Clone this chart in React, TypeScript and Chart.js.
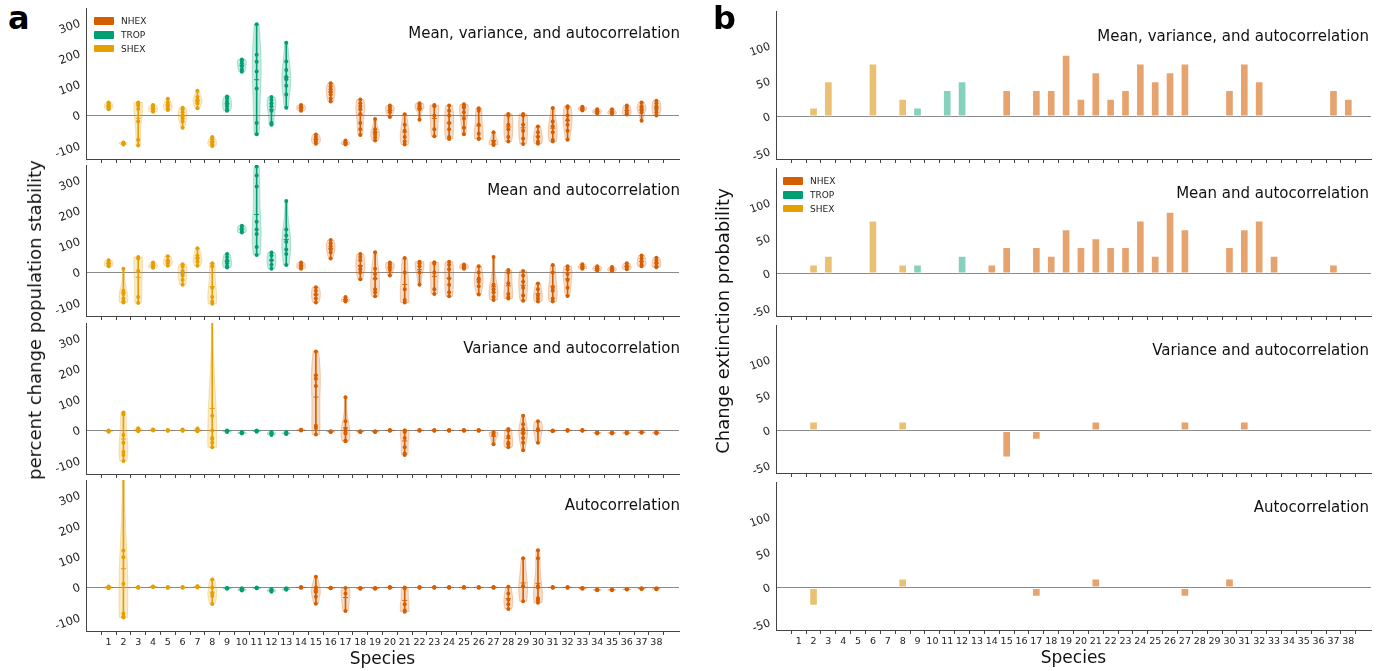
import React, { useEffect, useRef } from 'react';
import { Chart, registerables } from 'chart.js';

Chart.register(...registerables);

const FONT = "'DejaVu Sans', 'Noto Sans', sans-serif";

// ---------- data ----------
const species = [1, 2, 3, 4, 5, 6, 7, 8, 9, 10, 11, 12, 13, 14, 15, 16, 17, 18, 19, 20, 21, 22, 23, 24, 25, 26, 27, 28, 29, 30, 31, 32, 33, 34, 35, 36, 37, 38];
const groups = [
  'SHEX', 'SHEX', 'SHEX', 'SHEX', 'SHEX', 'SHEX', 'SHEX', 'SHEX',
  'TROP', 'TROP', 'TROP', 'TROP', 'TROP',
  'NHEX', 'NHEX', 'NHEX', 'NHEX', 'NHEX', 'NHEX', 'NHEX', 'NHEX', 'NHEX', 'NHEX', 'NHEX', 'NHEX', 'NHEX',
  'NHEX', 'NHEX', 'NHEX', 'NHEX', 'NHEX', 'NHEX', 'NHEX', 'NHEX', 'NHEX', 'NHEX', 'NHEX', 'NHEX',
];
const legendGroups = ['NHEX', 'TROP', 'SHEX'];
const groupColors: Record<string, string> = { NHEX: '#D55E00', TROP: '#009E73', SHEX: '#E69F00' };
const barColors: Record<string, string> = { NHEX: 'rgba(213,94,0,0.57)', TROP: 'rgba(0,158,115,0.48)', SHEX: 'rgba(222,160,40,0.65)' };
const subplotTitles = ['Mean, variance, and autocorrelation', 'Mean and autocorrelation', 'Variance and autocorrelation', 'Autocorrelation'];
const stabilityTicks = [-100, 0, 100, 200, 300];
const extinctionTicks = [-50, 0, 50, 100];

// panel a: percent change population stability (one list of scenario values per species)
const aMeanVarAuto: number[][] = [
  [42, 38, 35, 30, 28, 24, 20], [-88, -90, -92, -95], [42, 38, 32, 21, -20, -79, -98], [34, 28, 22, 15, 12],
  [54, 42, 35, 28, 22, 18], [25, 20, 10, 0, -10, -20, -40], [80, 60, 50, 45, 40, 23], [-70, -78, -85, -90, -95, -100],
  [62, 55, 45, 38, 30, 20, 15], [182, 178, 170, 160, 150, 142], [297, 198, 175, 143, 88, -25, -61], [60, 50, 40, 30, 15, -25, -30],
  [237, 176, 148, 125, 118, 97, 68, 25], [34, 28, 22, 15], [-62, -70, -78, -85, -92], [105, 95, 85, 78, 68, 55, 45],
  [-82, -88, -92, -95], [52, 40, 30, 20, 5, -25, -45, -64], [-12, -45, -55, -62, -72, -82], [32, 25, 18, 10, -5],
  [4, -30, -50, -70, -85, -95], [40, 35, 30, 25, 20, -14], [34, 30, 0, -45, -68], [32, 15, 0, -25, -45, -70, -77],
  [36, 30, 25, 10, -10, -40, -61], [23, 15, -30, -60, -75, -77], [-55, -85, -92, -96], [5, 0, -30, -45, -70, -85],
  [5, 0, -30, -50, -75, -93], [-36, -55, -70, -85, -92], [24, -20, -35, -55, -80, -85], [30, 25, 0, -15, -30, -50, -79],
  [28, 24, 20, 16], [20, 15, 10, 6], [20, 12, 8, 5], [32, 25, 15, 8, 3], [42, 30, 25, 18, 10, -17], [48, 40, 30, 20, 10, 0],
];
const aMeanAuto: number[][] = [
  [40, 32, 25, 20], [12, -60, -70, -85, -95, -98], [50, 45, 5, -80, -100], [32, 25, 18, 15],
  [53, 40, 30, 22], [27, 20, 5, -10, -25, -40], [79, 55, 45, 35, 22], [30, 20, -50, -80, -95, -102],
  [60, 50, 40, 30, 20, 16], [152, 145, 135, 130], [345, 316, 280, 165, 140, 125, 83, 57], [65, 55, 40, 25, 12],
  [233, 140, 120, 100, 75, 60, 24], [32, 25, 18, 12], [-48, -60, -72, -85, -98], [106, 95, 85, 75, 65, 45],
  [-80, -88, -92, -95], [60, 50, 40, 20, 10, 0, -22], [66, 12, -5, -20, -55, -65, -78], [32, 25, 18, 8, -10],
  [47, 0, -55, -90, -98], [35, 30, 20, 0, -40], [33, 28, 0, -55, -70], [35, 25, 10, -20, -40, -65, -78],
  [26, 22, 15, 12], [20, 0, -20, -30, -45, -72], [50, -40, -55, -65, -80, -90], [8, 0, -35, -70, -80, -85],
  [5, -10, -30, -50, -75, -92], [-36, -55, -75, -85, -95], [24, 0, -50, -60, -85, -95], [20, 10, -5, -25, -50, -77],
  [27, 20, 15, 12], [20, 15, 10, 6], [18, 12, 8, 5], [30, 22, 15, 10], [55, 45, 35, 25, 20], [48, 40, 30, 20, 17],
];
const aVarAuto: number[][] = [
  [0, -2, -4, -3], [58, 52, -15, -40, -70, -80, -100], [7, 3, 0, -3], [3, 1, 0],
  [1, 0, -1], [3, 0, -1], [6, 2, 0, -3], [600, 48, 0, -25, -28, -40, -55],
  [0, -3, -5], [-5, -8, -10], [0, -2, -4], [-5, -10, -15],
  [-5, -10, -12], [2, 0, 1], [257, 180, 168, 145, 15, 8, -13], [-3, -5, -4],
  [108, 30, 5, -5, -10, -33, -35], [-3, -5, -4], [-4, -3, -5], [0, 1, -1],
  [0, 0, -5, -25, -55, -75, -80], [0, 1, -1], [0, 1, -1], [-1, 0, 1],
  [0, 1, -1], [0, 1, -1], [-5, -10, -15, -45], [5, 0, -20, -40, -45, -55],
  [48, 20, 5, 0, -10, -25, -40, -65], [30, 5, 0, -40], [0, -3, -1], [0, 1, -1],
  [0, 1, -1], [-8, -10, -7], [-8, -10, -7], [-8, -10, -5], [-5, -8, -6], [-5, -8, -10],
];
const aAuto: number[][] = [
  [0, 3, -3], [475, 120, 98, 12, -85, -95, -98], [0, 1, -1], [2, 1, 3],
  [0, 1, -1], [0, 1, -1], [3, 0, 4], [26, 0, -20, -28, -54],
  [-3, -2, -4], [-3, -8, -10], [-2, 0, -3], [-5, -10, -14],
  [-3, -8, -6], [0, 1, -1], [35, 0, -5, -15, -30, -53], [-2, -1, -3],
  [-2, -20, -77], [-3, -2, -4], [-3, -2, -4], [0, 1, -1],
  [0, -3, -55, -75, -79], [0, 1, -1], [0, 1, -1], [0, 1, -1],
  [0, 1, -1], [0, 1, -1], [0, 1, -1], [2, -20, -40, -55, -70],
  [95, 5, 3, -45], [121, 95, 5, 0, -35, -42, -50], [0, 1, -1], [0, 1, -1],
  [-3, -2, -4], [-8, -7, -9], [-8, -7, -9], [-6, -5, -7], [-3, -5, -4], [-3, -6, -5],
];

// panel b: change in extinction probability per species
const bMeanVarAuto = [0, 12.5, 50, 0, 0, 75, 0, 25, 12.5, 0, 37.5, 50, 0, 0, 37.5, 0, 37.5, 37.5, 87.5, 25, 62.5, 25, 37.5, 75, 50, 62.5, 75, 0, 0, 37.5, 75, 50, 0, 0, 0, 0, 37.5, 25];
const bMeanAuto = [0, 12.5, 25, 0, 0, 75, 0, 12.5, 12.5, 0, 0, 25, 0, 12.5, 37.5, 0, 37.5, 25, 62.5, 37.5, 50, 37.5, 37.5, 75, 25, 87.5, 62.5, 0, 0, 37.5, 62.5, 75, 25, 0, 0, 0, 12.5, 0];
const bVarAuto = [0, 12.5, 0, 0, 0, 0, 0, 12.5, 0, 0, 0, 0, 0, 0, -37.5, 0, -12.5, 0, 0, 0, 12.5, 0, 0, 0, 0, 0, 12.5, 0, 0, 0, 12.5, 0, 0, 0, 0, 0, 0, 0];
const bAuto = [0, -25, 0, 0, 0, 0, 0, 12.5, 0, 0, 0, 0, 0, 0, 0, 0, -12.5, 0, 0, 0, 12.5, 0, 0, 0, 0, 0, -12.5, 0, 0, 12.5, 0, 0, 0, 0, 0, 0, 0, 0];

const panelAData = [aMeanVarAuto, aMeanAuto, aVarAuto, aAuto];
const panelBData = [bMeanVarAuto, bMeanAuto, bVarAuto, bAuto];

// ---------- layout ----------
const PA = { left: 86, right: 679, tops: [8, 165, 323, 480], height: 151, yMin: -142, yMax: 350 };
const PB = { left: 776, right: 1371, tops: [11, 168, 325, 482], height: 148, yMin: -60, yMax: 150 };
const Y_AXIS_W = 46;
const PAD_TOP = 12;
const PAD_RIGHT = 6;
const X_AXIS_H = 5;
const X_AXIS_H_BOTTOM = 40;

function rgba(hex: string, a: number) {
  const n = parseInt(hex.slice(1), 16);
  return `rgba(${(n >> 16) & 255},${(n >> 8) & 255},${n & 255},${a})`;
}
const meanOf = (v: number[]) => v.reduce((s, x) => s + x, 0) / v.length;

function xScale(isBottom: boolean) {
  return {
    type: 'linear',
    min: 0,
    max: 39,
    afterBuildTicks: (s: any) => { s.ticks = species.map((v) => ({ value: v })); },
    afterFit: (s: any) => { s.height = isBottom ? X_AXIS_H_BOTTOM : X_AXIS_H; s.paddingLeft = 0; s.paddingRight = 0; },
    ticks: { display: isBottom, autoSkip: false, maxRotation: 0, minRotation: 0, padding: 2, color: '#222', font: { family: FONT, size: 9.5 } },
    grid: { display: true, drawOnChartArea: false, drawTicks: true, tickLength: 4, color: '#444', tickColor: '#444', tickWidth: 1 },
    border: { display: true, color: '#444', width: 1 },
    title: { display: isBottom, text: 'Species', color: '#111', font: { family: FONT, size: 17 }, padding: { top: 0, bottom: 1 } },
  };
}

function yScale(min: number, max: number, tickVals: number[], size: number) {
  return {
    type: 'linear',
    min,
    max,
    afterBuildTicks: (s: any) => { s.ticks = tickVals.map((v) => ({ value: v })); },
    afterFit: (s: any) => { s.width = Y_AXIS_W; s.paddingTop = 0; s.paddingBottom = 0; },
    ticks: { minRotation: 20, maxRotation: 20, padding: 6, color: '#222', font: { family: FONT, size } },
    grid: {
      drawTicks: false,
      lineWidth: 1,
      color: (c: any) => (c.tick && c.tick.value === 0 ? '#8a8a8a' : 'rgba(0,0,0,0)'),
    },
    border: { display: true, color: '#444', width: 1 },
  };
}

function violinPlugin(values: number[][]) {
  return {
    id: 'violinBodies',
    beforeDatasetsDraw(chart: any) {
      const { ctx, chartArea: ca } = chart;
      const xs = chart.scales.x;
      const ys = chart.scales.y;
      ctx.save();
      ctx.beginPath();
      ctx.rect(ca.left, ca.top, ca.right - ca.left, ca.bottom - ca.top);
      ctx.clip();
      values.forEach((vals, i) => {
        const n = vals.length;
        const lo = Math.min(...vals);
        const hi = Math.max(...vals);
        if (n < 2 || hi - lo <= 0) return;
        const m = meanOf(vals);
        const sd = Math.sqrt(vals.reduce((s, x) => s + (x - m) * (x - m), 0) / (n - 1));
        const bw = Math.max(sd * Math.pow(n, -0.2), 0.5);
        const steps = 80;
        const prof: [number, number][] = [];
        let dmax = 0;
        for (let k = 0; k <= steps; k++) {
          const v = lo + ((hi - lo) * k) / steps;
          let d = 0;
          for (const u of vals) d += Math.exp(-0.5 * ((v - u) / bw) ** 2);
          prof.push([v, d]);
          if (d > dmax) dmax = d;
        }
        const hw = 0.3;
        const s = species[i];
        const col = groupColors[groups[i]];
        ctx.beginPath();
        prof.forEach(([v, d], k) => {
          const px = xs.getPixelForValue(s - (hw * d) / dmax);
          const py = ys.getPixelForValue(v);
          if (k === 0) ctx.moveTo(px, py); else ctx.lineTo(px, py);
        });
        for (let k = prof.length - 1; k >= 0; k--) {
          const [v, d] = prof[k];
          ctx.lineTo(xs.getPixelForValue(s + (hw * d) / dmax), ys.getPixelForValue(v));
        }
        ctx.closePath();
        ctx.fillStyle = rgba(col, 0.22);
        ctx.fill();
        ctx.strokeStyle = rgba(col, 0.28);
        ctx.lineWidth = 1;
        ctx.stroke();
      });
      ctx.restore();
    },
  };
}

function violinConfig(values: number[][], isBottom: boolean) {
  const datasets: any[] = [];
  legendGroups.forEach((g) => {
    const col = groupColors[g];
    const idx = species.map((_, i) => i).filter((i) => groups[i] === g);
    datasets.push({
      type: 'scatter',
      label: g,
      data: idx.flatMap((i) => values[i].map((v) => ({ x: species[i], y: v }))),
      backgroundColor: col,
      borderColor: col,
      borderWidth: 0,
      pointRadius: 2,
      order: 1,
    });
    datasets.push({
      type: 'scatter',
      label: g + ' mean',
      data: idx.map((i) => ({ x: species[i], y: meanOf(values[i]) })),
      pointStyle: 'line',
      pointRadius: 2.5,
      borderColor: col,
      borderWidth: 1,
      order: 2,
    });
    datasets.push({
      type: 'bar',
      label: g + ' range',
      data: idx
        .filter((i) => Math.max(...values[i]) > Math.min(...values[i]))
        .map((i) => ({ x: species[i], y: [Math.min(...values[i]), Math.max(...values[i])] })),
      backgroundColor: col,
      borderWidth: 0,
      barThickness: 1,
      grouped: false,
      order: 3,
    });
  });
  return {
    type: 'scatter',
    data: { datasets },
    options: {
      responsive: false,
      animation: false,
      events: [],
      layout: { padding: { top: PAD_TOP, right: PAD_RIGHT, left: 0, bottom: 0 } },
      plugins: { legend: { display: false }, tooltip: { enabled: false }, title: { display: false } },
      scales: { x: xScale(isBottom), y: yScale(PA.yMin, PA.yMax, stabilityTicks, 11.5) },
    },
    plugins: [violinPlugin(values)],
  };
}

function barConfig(values: number[], isBottom: boolean) {
  const datasets = legendGroups.map((g) => ({
    type: 'bar',
    label: g,
    data: species
      .map((s, i) => ({ x: s, y: values[i], g: groups[i] }))
      .filter((d) => d.g === g && d.y !== 0)
      .map((d) => ({ x: d.x, y: d.y })),
    backgroundColor: barColors[g],
    borderColor: 'rgba(255,255,255,0.45)',
    borderWidth: 1,
    borderSkipped: false,
    barThickness: 8,
    grouped: false,
  }));
  return {
    type: 'bar',
    data: { datasets },
    options: {
      responsive: false,
      animation: false,
      events: [],
      layout: { padding: { top: PAD_TOP, right: PAD_RIGHT, left: 0, bottom: 0 } },
      plugins: { legend: { display: false }, tooltip: { enabled: false }, title: { display: false } },
      scales: { x: xScale(isBottom), y: yScale(PB.yMin, PB.yMax, extinctionTicks, 11) },
    },
  };
}

function ChartCanvas({ make, left, top, width, height }: any) {
  const ref = useRef<HTMLCanvasElement>(null);
  useEffect(() => {
    const chart = new Chart(ref.current as HTMLCanvasElement, make());
    return () => chart.destroy();
  }, []);
  return (
    <div style={{ position: 'absolute', left, top, width, height }}>
      <canvas ref={ref} width={width} height={height} />
    </div>
  );
}

function Legend({ left, top }: { left: number; top: number }) {
  return (
    <div style={{ position: 'absolute', left, top }}>
      {legendGroups.map((g, k) => (
        <div key={g} style={{ position: 'absolute', left: 0, top: k * 13.8, height: 8, display: 'flex', alignItems: 'center', whiteSpace: 'nowrap' }}>
          <span style={{ display: 'inline-block', width: 20, height: 7.5, background: groupColors[g], borderRadius: 1 }} />
          <span style={{ marginLeft: 7, fontSize: 9, fontFamily: FONT, color: '#222', lineHeight: '8px' }}>{g}</span>
        </div>
      ))}
    </div>
  );
}

function SubTitle({ text, right, areaTop }: { text: string; right: number; areaTop: number }) {
  return (
    <div style={{ position: 'absolute', right: 1386 - right, top: areaTop + 15, height: 20, lineHeight: '20px', fontSize: 15, fontFamily: FONT, color: '#111', whiteSpace: 'nowrap' }}>
      {text}
    </div>
  );
}

function YTitle({ text, cx, cy }: { text: string; cx: number; cy: number }) {
  return (
    <div style={{ position: 'absolute', left: cx, top: cy, transform: 'translate(-50%, -50%) rotate(-90deg)', fontSize: 18, lineHeight: '22px', fontFamily: FONT, color: '#111', whiteSpace: 'nowrap' }}>
      {text}
    </div>
  );
}

export default function App() {
  const aCanvases = panelAData.map((vals, i) => {
    const isBottom = i === 3;
    const width = Y_AXIS_W + (PA.right - PA.left) + PAD_RIGHT;
    const height = PAD_TOP + PA.height + (isBottom ? X_AXIS_H_BOTTOM : X_AXIS_H);
    return (
      <ChartCanvas key={'a' + i} make={() => violinConfig(vals, isBottom)} left={PA.left - Y_AXIS_W} top={PA.tops[i] - PAD_TOP} width={width} height={height} />
    );
  });
  const bCanvases = panelBData.map((vals, i) => {
    const isBottom = i === 3;
    const width = Y_AXIS_W + (PB.right - PB.left) + PAD_RIGHT;
    const height = PAD_TOP + PB.height + (isBottom ? X_AXIS_H_BOTTOM : X_AXIS_H);
    return (
      <ChartCanvas key={'b' + i} make={() => barConfig(vals, isBottom)} left={PB.left - Y_AXIS_W} top={PB.tops[i] - PAD_TOP} width={width} height={height} />
    );
  });
  return (
    <div style={{ position: 'absolute', left: 0, top: 0, width: 1386, height: 671, background: '#fff', overflow: 'hidden' }}>
      {aCanvases}
      {bCanvases}
      {subplotTitles.map((t, i) => <SubTitle key={'ta' + i} text={t} right={680} areaTop={PA.tops[i]} />)}
      {subplotTitles.map((t, i) => <SubTitle key={'tb' + i} text={t} right={1369} areaTop={PB.tops[i]} />)}
      <Legend left={94} top={17} />
      <Legend left={783} top={177} />
      <YTitle text="percent change population stability" cx={35} cy={320} />
      <YTitle text="Change extinction probability" cx={723} cy={321} />
      <div style={{ position: 'absolute', left: 8, top: 2, fontSize: 32, lineHeight: '32px', fontWeight: 'bold', fontFamily: FONT, color: '#000' }}>a</div>
      <div style={{ position: 'absolute', left: 713, top: 2, fontSize: 32, lineHeight: '32px', fontWeight: 'bold', fontFamily: FONT, color: '#000' }}>b</div>
    </div>
  );
}
